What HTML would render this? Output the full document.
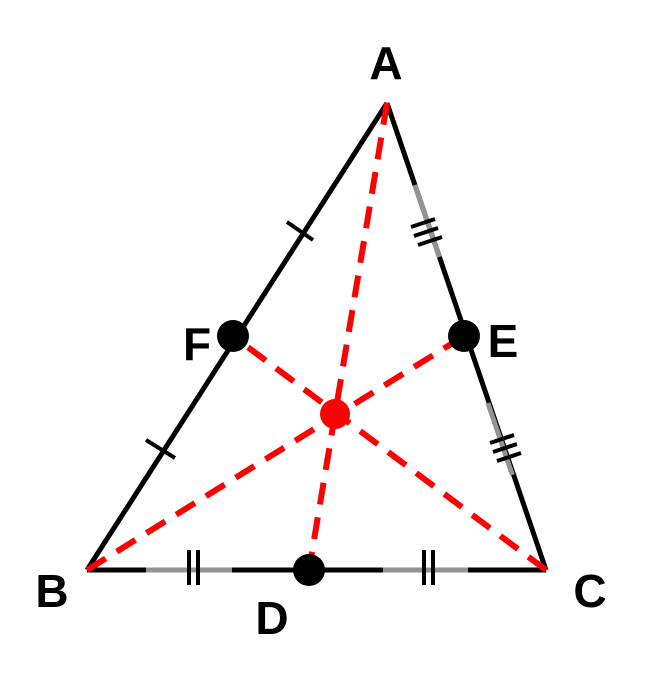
<!DOCTYPE html>
<html><head><style>body{margin:0;background:#fff}svg{display:block}</style></head><body>
<svg width="664" height="685" viewBox="0 0 664 685" xmlns="http://www.w3.org/2000/svg">
<g stroke-width="5" fill="none">
<line x1="387" y1="103" x2="87" y2="570" stroke="#000"/>
<line x1="87" y1="570" x2="546" y2="570" stroke="#000"/>
<line x1="387" y1="103" x2="546" y2="570" stroke="#000"/>
<line x1="146" y1="570" x2="232" y2="570" stroke="#939393"/>
<line x1="383" y1="570" x2="468" y2="570" stroke="#939393"/>
<line x1="414.9" y1="185" x2="439.4" y2="257" stroke="#939393"/>
<line x1="487.9" y1="403" x2="512.4" y2="475" stroke="#939393"/>
</g>
<g stroke="#000" stroke-width="4">
<line x1="189" y1="550" x2="189" y2="585"/><line x1="198" y1="550" x2="198" y2="585"/>
<line x1="424" y1="550" x2="424" y2="585"/><line x1="433" y1="550" x2="433" y2="585"/>
<line x1="287" y1="222" x2="313" y2="240"/>
<line x1="146" y1="440" x2="175" y2="458"/>
<line x1="411" y1="227" x2="435" y2="219"/><line x1="414" y1="236" x2="438" y2="228"/><line x1="418" y1="245" x2="442" y2="237"/>
<line x1="490" y1="443" x2="514" y2="435"/><line x1="493" y1="452" x2="517" y2="444"/><line x1="497" y1="461" x2="521" y2="453"/>
</g>
<g stroke="#ff0000" stroke-width="6" stroke-dasharray="22 13" fill="none">
<line x1="387" y1="103" x2="309" y2="570"/>
<line x1="87" y1="570" x2="464" y2="336"/>
<line x1="546" y1="570" x2="233" y2="336"/>
</g>
<circle cx="233" cy="336" r="16" fill="#000"/>
<circle cx="464" cy="336" r="16" fill="#000"/>
<circle cx="309" cy="570" r="16" fill="#000"/>
<circle cx="335" cy="414" r="15" fill="#ff0000"/>
<g font-family="Liberation Sans, sans-serif" font-weight="bold" font-size="46" text-anchor="middle">
<text x="386" y="79">A</text>
<text x="52" y="607">B</text>
<text x="590" y="607">C</text>
<text x="272" y="634">D</text>
<text x="503" y="357">E</text>
<text x="197" y="360">F</text>
</g>
</svg>
</body></html>
